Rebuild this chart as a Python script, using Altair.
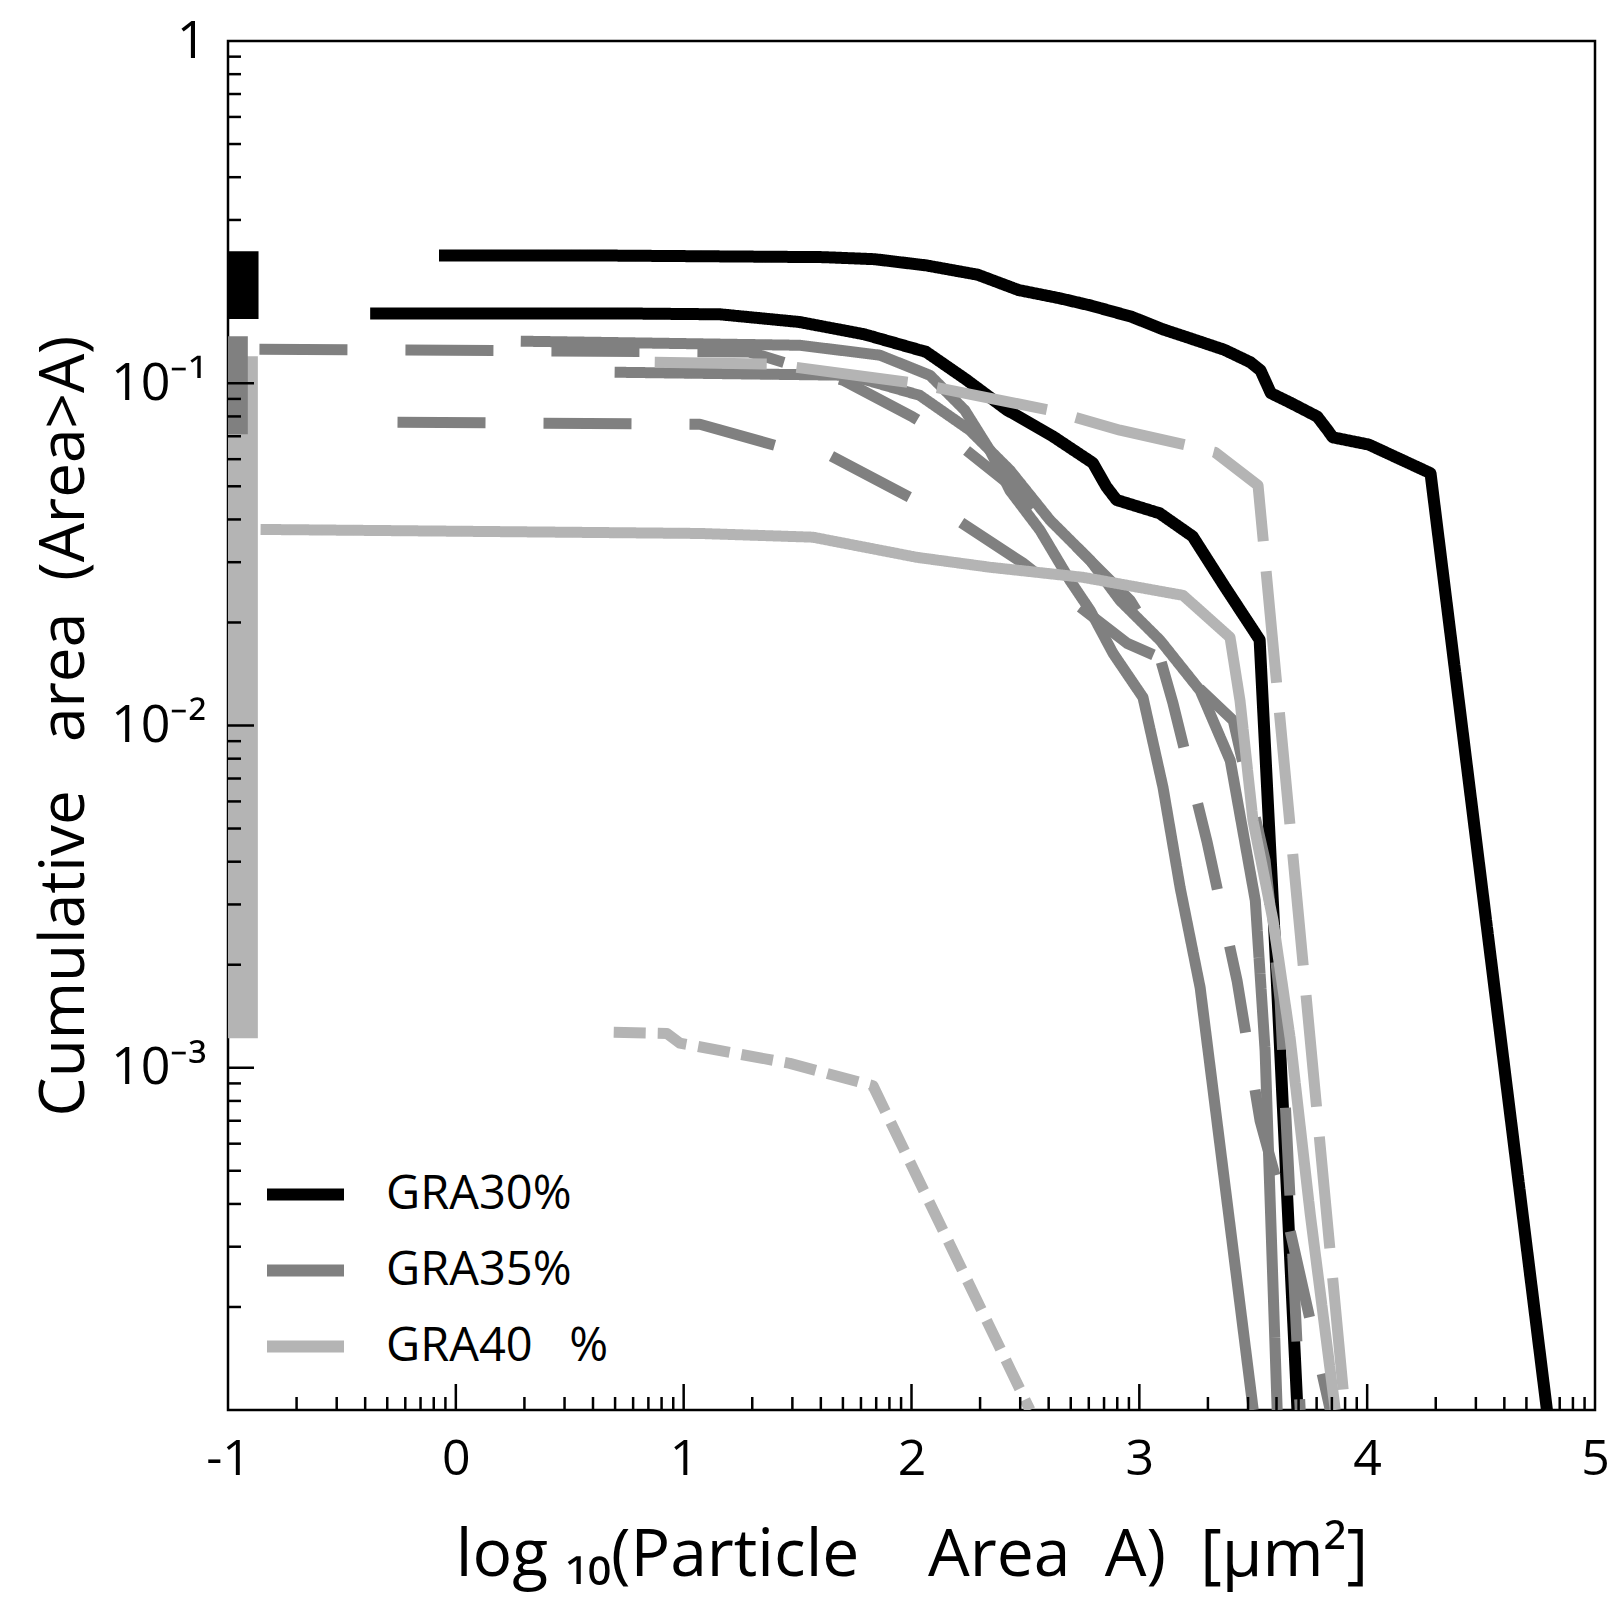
import math
import altair as alt
import pandas as pd

# ---------------- data ----------------
# GRA30% (black, solid)
G30A_X = [-0.074, 0.708, 1.612, 1.838, 2.064, 2.290, 2.470, 2.651, 2.787, 2.967, 3.103, 3.239,
          3.374, 3.487, 3.532, 3.577, 3.668, 3.781, 3.826, 3.849, 4.007, 4.278, 4.789]
G30A_Y = [0.2360, 0.2360, 0.2336, 0.2304, 0.2210, 0.2076, 0.1872, 0.1771, 0.1687, 0.1563, 0.1438, 0.1342,
          0.1252, 0.1152, 0.1090, 0.0936, 0.0874, 0.0799, 0.0730, 0.0695, 0.0662, 0.0546, 0.0001]
G30B_X = [-0.376, 0.708, 1.160, 1.508, 1.793, 2.064, 2.240, 2.416, 2.620, 2.796, 2.855, 2.900,
          3.089, 3.234, 3.374, 3.528, 3.600, 3.694]
G30B_Y = [0.1600, 0.1600, 0.1590, 0.1510, 0.1390, 0.1235, 0.1025, 0.0838, 0.0700, 0.0585, 0.0499, 0.0456,
          0.0417, 0.0357, 0.0255, 0.0178, 0.0020, 0.0001]

# GRA35% (grey): two solid, two dashed
G35S1_X = [0.285, 1.510, 1.861, 2.081, 2.234, 2.344, 2.432, 2.564, 2.696, 2.784, 2.885, 3.016,
           3.104, 3.179, 3.267, 3.500]
G35S1_Y = [0.1327, 0.1291, 0.1208, 0.1055, 0.0834, 0.0637, 0.0486, 0.0372, 0.0265, 0.0217, 0.01624, 0.01208,
           0.00659, 0.00336, 0.001713, 0.0001]
G35S2_X = [0.697, 1.729, 2.036, 2.256, 2.432, 2.608, 2.784, 2.915, 3.091, 3.267, 3.399, 3.509, 3.552, 3.605]
G35S2_Y = [0.1077, 0.1055, 0.0922, 0.0729, 0.0557, 0.0398, 0.0304, 0.0232, 0.01774, 0.01265, 0.00790,
           0.00308, 0.001122, 0.0001]
G35D1_X = [-0.862, 1.290, 1.699, 2.007, 2.213, 2.477, 2.740, 2.960, 3.069, 3.148, 3.298, 3.429, 3.530,
           3.662, 3.838]
G35D1_Y = [0.1257, 0.1233, 0.1021, 0.0796, 0.0659, 0.0477, 0.0325, 0.0232, 0.01774, 0.01159, 0.00455,
           0.001796, 0.000700, 0.000334, 0.0001]
G35D2_X = [-0.256, 1.071, 1.431, 1.642, 1.993, 2.182, 2.490, 2.674, 2.947, 3.148, 3.412, 3.552, 3.618,
           3.662, 3.706]
G35D2_Y = [0.0769, 0.0759, 0.0650, 0.0616, 0.0464, 0.0406, 0.0298, 0.0240, 0.01738, 0.01518, 0.01035,
           0.00403, 0.001571, 0.000408, 0.0001]

# GRA40% (light grey): one long-dashed, one solid, one short-dashed
G40D1_X = [0.873, 1.391, 2.015, 2.608, 2.915, 3.210, 3.333, 3.521, 3.903]
G40D1_Y = [0.1151, 0.1137, 0.100, 0.0834, 0.0729, 0.0659, 0.0628, 0.0503, 0.0001]
G40S_X = [-0.857, 0.105, 1.071, 1.567, 2.024, 2.344, 2.753, 3.192, 3.398, 3.442, 3.499, 3.587, 3.662,
          3.750, 3.860]
G40S_Y = [0.0374, 0.0369, 0.0364, 0.0355, 0.0310, 0.0290, 0.0271, 0.0240, 0.0181, 0.0118, 0.00527,
          0.00269, 0.00122, 0.000374, 0.0001]
G40D2_X = [0.693, 0.926, 0.983, 1.466, 1.831, 2.520]
G40D2_Y = [0.00127, 0.00126, 0.00118, 0.00103, 0.000886, 0.0001]

# range bars at the left edge
BAR_GROUP = ["GRA40\u00a0\u00a0\u00a0%", "GRA35%", "GRA30%"]
BAR_X1 = [-1.0, -1.0, -1.0]
BAR_X2 = [-0.869, -0.913, -0.866]
BAR_LO = [0.00122, 0.0710, 0.154]
BAR_HI = [0.120, 0.1372, 0.243]

GROUPS = ["GRA30%", "GRA35%", "GRA40\u00a0\u00a0\u00a0%"]
COLORS = ["#000000", "#808080", "#b4b4b4"]
STYLES = ["solid", "grey dash", "light dash", "short dash"]
DASHES = [[1, 0], [88, 58], [112, 30], [32, 12]]

X_TICKS = [-1, 0, 1, 2, 3, 4, 5]
Y_TICKS = [1, 0.1, 0.01, 0.001]
X_MAJOR = [0, 1, 2, 3, 4]
X_MINOR = [n + math.log10(k) for n in range(-1, 5) for k in range(2, 10)]
Y_MAJOR = [0.1, 0.01, 0.001]
Y_MINOR = [k * 10.0 ** m for m in (-4, -3, -2, -1) for k in range(2, 10)]

# ---------------- chart ----------------
W, H = 1367, 1369
FONT = "Open Sans"

XS = alt.Scale(domain=[-1, 5], nice=False, zero=False)
YS = alt.Scale(type="log", domain=[0.0001, 1], nice=False)
CS = alt.Scale(domain=GROUPS, range=COLORS)

XAXIS = alt.Axis(values=X_TICKS, ticks=False, tickSize=0, domain=False, grid=False,
                 labelExpr="'' + datum.value", labelFontSize=50, labelFont=FONT, labelColor="black",
                 labelPadding=24, labelFlush=False, labelOverlap=False,
                 title="log\u00a0\u2081\u2080(Particle\u00a0\u00a0\u00a0\u00a0Area\u00a0\u00a0A)\u00a0\u00a0[\u03bcm\u00b2]",
                 titleFontSize=66, titleFont=FONT, titleFontWeight="normal", titleColor="black",
                 titleX=W / 2, titleY=165, titleBaseline="alphabetic", titleAlign="center")
YAXIS = alt.Axis(values=Y_TICKS, ticks=False, tickSize=0, domain=False, grid=False,
                 labelExpr="datum.value > 0.5 ? '1' : datum.value > 0.05 ? '10\u207b\u00b9' : datum.value > 0.005 ? '10\u207b\u00b2' : '10\u207b\u00b3'",
                 labelFontSize=52, labelFont=FONT, labelColor="black", labelPadding=22,
                 labelFlush=False, labelOverlap=False, labelAlign="right", labelBaseline="middle",
                 title="Cumulative\u00a0\u00a0\u00a0area\u00a0\u00a0(Area>A)",
                 titleFontSize=62, titleFont=FONT, titleFontWeight="normal", titleColor="black",
                 titleAngle=270, titleX=-145, titleY=H / 2, titleBaseline="alphabetic", titleAlign="center")

X_ENC = alt.X("x:Q", scale=XS, axis=XAXIS)
Y_ENC = alt.Y("y:Q", scale=YS, axis=YAXIS)

# filled bar-shaped legend symbols: 77 x 12 px
LEGEND = alt.Legend(title=None, orient="none", legendX=39, legendY=1115,
                    symbolType="M-1,-0.156H1V0.156H-1Z", symbolSize=5929, symbolStrokeWidth=0,
                    symbolOpacity=1,
                    labelFontSize=47, labelFont=FONT, labelColor="black", labelOffset=42,
                    labelLimit=0, rowPadding=14, padding=0)
C_LEG = alt.Color("group:N", scale=CS, legend=LEGEND)
C_ENC = alt.Color("group:N", scale=CS, legend=None)
D_ENC = alt.StrokeDash("style:N", scale=alt.Scale(domain=STYLES, range=DASHES), legend=None)

layers = []

bars = pd.DataFrame({"group": BAR_GROUP, "x": BAR_X1, "x2": BAR_X2, "y": BAR_LO, "y2": BAR_HI})
layers.append(alt.Chart(bars).mark_rect(opacity=1).encode(
    x=X_ENC, x2="x2:Q", y=Y_ENC, y2="y2:Q", color=C_LEG))

curves = [
    ("g30a", GROUPS[0], G30A_X, G30A_Y, "solid", 12),
    ("g30b", GROUPS[0], G30B_X, G30B_Y, "solid", 12),
    ("g35s1", GROUPS[1], G35S1_X, G35S1_Y, "solid", 11),
    ("g35s2", GROUPS[1], G35S2_X, G35S2_Y, "solid", 11),
    ("g35d1", GROUPS[1], G35D1_X, G35D1_Y, "grey dash", 11),
    ("g35d2", GROUPS[1], G35D2_X, G35D2_Y, "grey dash", 11),
    ("g40d1", GROUPS[2], G40D1_X, G40D1_Y, "light dash", 11),
    ("g40s", GROUPS[2], G40S_X, G40S_Y, "solid", 11),
    ("g40d2", GROUPS[2], G40D2_X, G40D2_Y, "short dash", 11),
]
for name, grp, xs, ys, style, sw in curves:
    df = pd.DataFrame({"x": xs, "y": ys, "i": list(range(len(xs))), "group": grp, "style": style})
    layers.append(alt.Chart(df).mark_line(strokeWidth=sw, clip=True, strokeCap="butt",
                                          strokeJoin="round").encode(
        x=X_ENC, y=Y_ENC, color=C_ENC, strokeDash=D_ENC, order="i:Q"))

# inward ticks
layers.append(alt.Chart(pd.DataFrame({"x": X_MAJOR})).mark_rule(color="black", strokeWidth=2.5).encode(
    x=X_ENC, y=alt.value(H), y2=alt.value(H - 26)))
layers.append(alt.Chart(pd.DataFrame({"x": X_MINOR})).mark_rule(color="black", strokeWidth=2.5).encode(
    x=X_ENC, y=alt.value(H), y2=alt.value(H - 13)))
layers.append(alt.Chart(pd.DataFrame({"y": Y_MAJOR})).mark_rule(color="black", strokeWidth=2.5).encode(
    y=Y_ENC, x=alt.value(0), x2=alt.value(26)))
layers.append(alt.Chart(pd.DataFrame({"y": Y_MINOR})).mark_rule(color="black", strokeWidth=2.5).encode(
    y=Y_ENC, x=alt.value(0), x2=alt.value(13)))

chart = alt.layer(*layers).resolve_scale(color="independent").resolve_legend(
    color="independent"
).properties(
    width=W, height=H,
    autosize=alt.AutoSizeParams(type="none"),
    padding={"left": 228, "top": 41, "right": 19, "bottom": 196},
    background="white",
).configure_view(stroke="black", strokeWidth=2.5)

chart.save("out.html", embed_options={"renderer": "svg", "actions": False})
